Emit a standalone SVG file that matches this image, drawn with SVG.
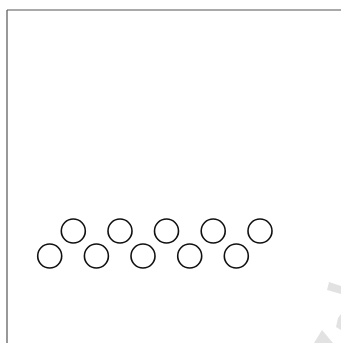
<svg xmlns="http://www.w3.org/2000/svg" width="341" height="343" viewBox="0 0 341 343">
<style>
.c{fill:none;stroke:#111;stroke-width:1.6}
.f{fill:none;stroke:#555;stroke-width:1.2}
.a{fill:#e2e2e2;stroke:none}
</style>
<rect width="341" height="343" fill="#fff"/>
<g id="frame">
<path class="f" d="M7,10 H341 M7,10 V343"/>
</g>
<g id="artifacts">
<path class="a" d="M329,282 L341,286 L341,294 L327,290 Z"/>
<path class="a" d="M338,318 L341,314 L341,330 L336,327 Z"/>
<path class="a" d="M322,330 L333,343 L314,343 Z"/>
</g>
<g id="circles">
<circle id="t1" class="c" cx="73.3" cy="231" r="12"/>
<circle id="t2" class="c" cx="120" cy="231" r="12"/>
<circle id="t3" class="c" cx="166.5" cy="231" r="12"/>
<circle id="t4" class="c" cx="213.2" cy="231" r="12"/>
<circle id="t5" class="c" cx="260" cy="231" r="12"/>
<circle id="b1" class="c" cx="49.7" cy="256" r="12"/>
<circle id="b2" class="c" cx="96.4" cy="256" r="12"/>
<circle id="b3" class="c" cx="143" cy="256" r="12"/>
<circle id="b4" class="c" cx="189.7" cy="256" r="12"/>
<circle id="b5" class="c" cx="236.3" cy="256" r="12"/>
</g>
<g id="connectors"/>
</svg>
